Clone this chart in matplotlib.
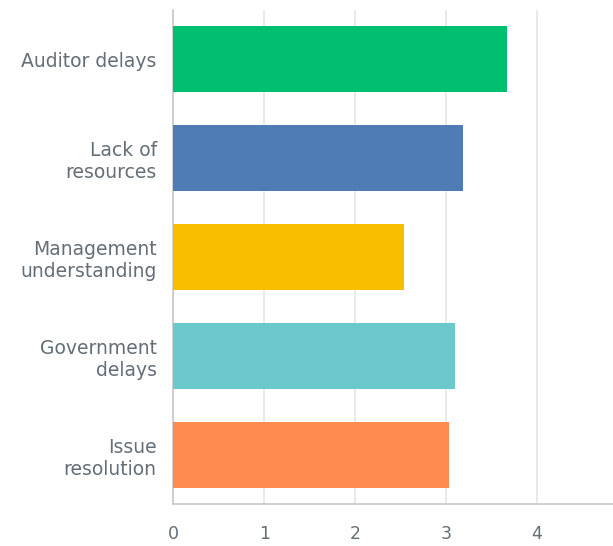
import matplotlib.pyplot as plt

categories = ["Auditor delays", "Lack of\nresources", "Management\nunderstanding",
              "Government\ndelays", "Issue\nresolution"]
scores = [3.67, 3.19, 2.54, 3.10, 3.04]
colors = ["#00BF6F", "#507CB6", "#F9BE00", "#6BC8CD", "#FF8B4F"]
ticks = [0, 1, 2, 3, 4]

plt.rcParams['font.family'] = ['DejaVu Sans']

fig = plt.figure(figsize=(6.13, 5.46), dpi=100)
ax = fig.add_axes([173.3 / 613, 42 / 546, 1 - 173.3 / 613, 494 / 546])

ypos = range(len(categories))
ax.barh(ypos, scores, height=0.667, color=colors, zorder=3)

ax.set_xlim(0, 4.84)
ax.set_ylim(4.5, -0.5)
ax.set_xticks(ticks)
ax.set_xticklabels([str(t) for t in ticks], fontsize=12.5)
ax.set_yticks(list(ypos))
ax.set_yticklabels(categories, linespacing=1.2, ha='right', fontsize=13.5)

ax.grid(axis='x', color='#E6E6E6', linewidth=1.2, zorder=0)
ax.tick_params(axis='both', length=0, colors='#636F77')
ax.tick_params(axis='y', pad=12)
ax.tick_params(axis='x', pad=15)

for side in ['top', 'right']:
    ax.spines[side].set_visible(False)
for side in ['left', 'bottom']:
    ax.spines[side].set_color('#C8C8C8')
    ax.spines[side].set_linewidth(1.2)

fig.savefig('out.png', dpi=100)
